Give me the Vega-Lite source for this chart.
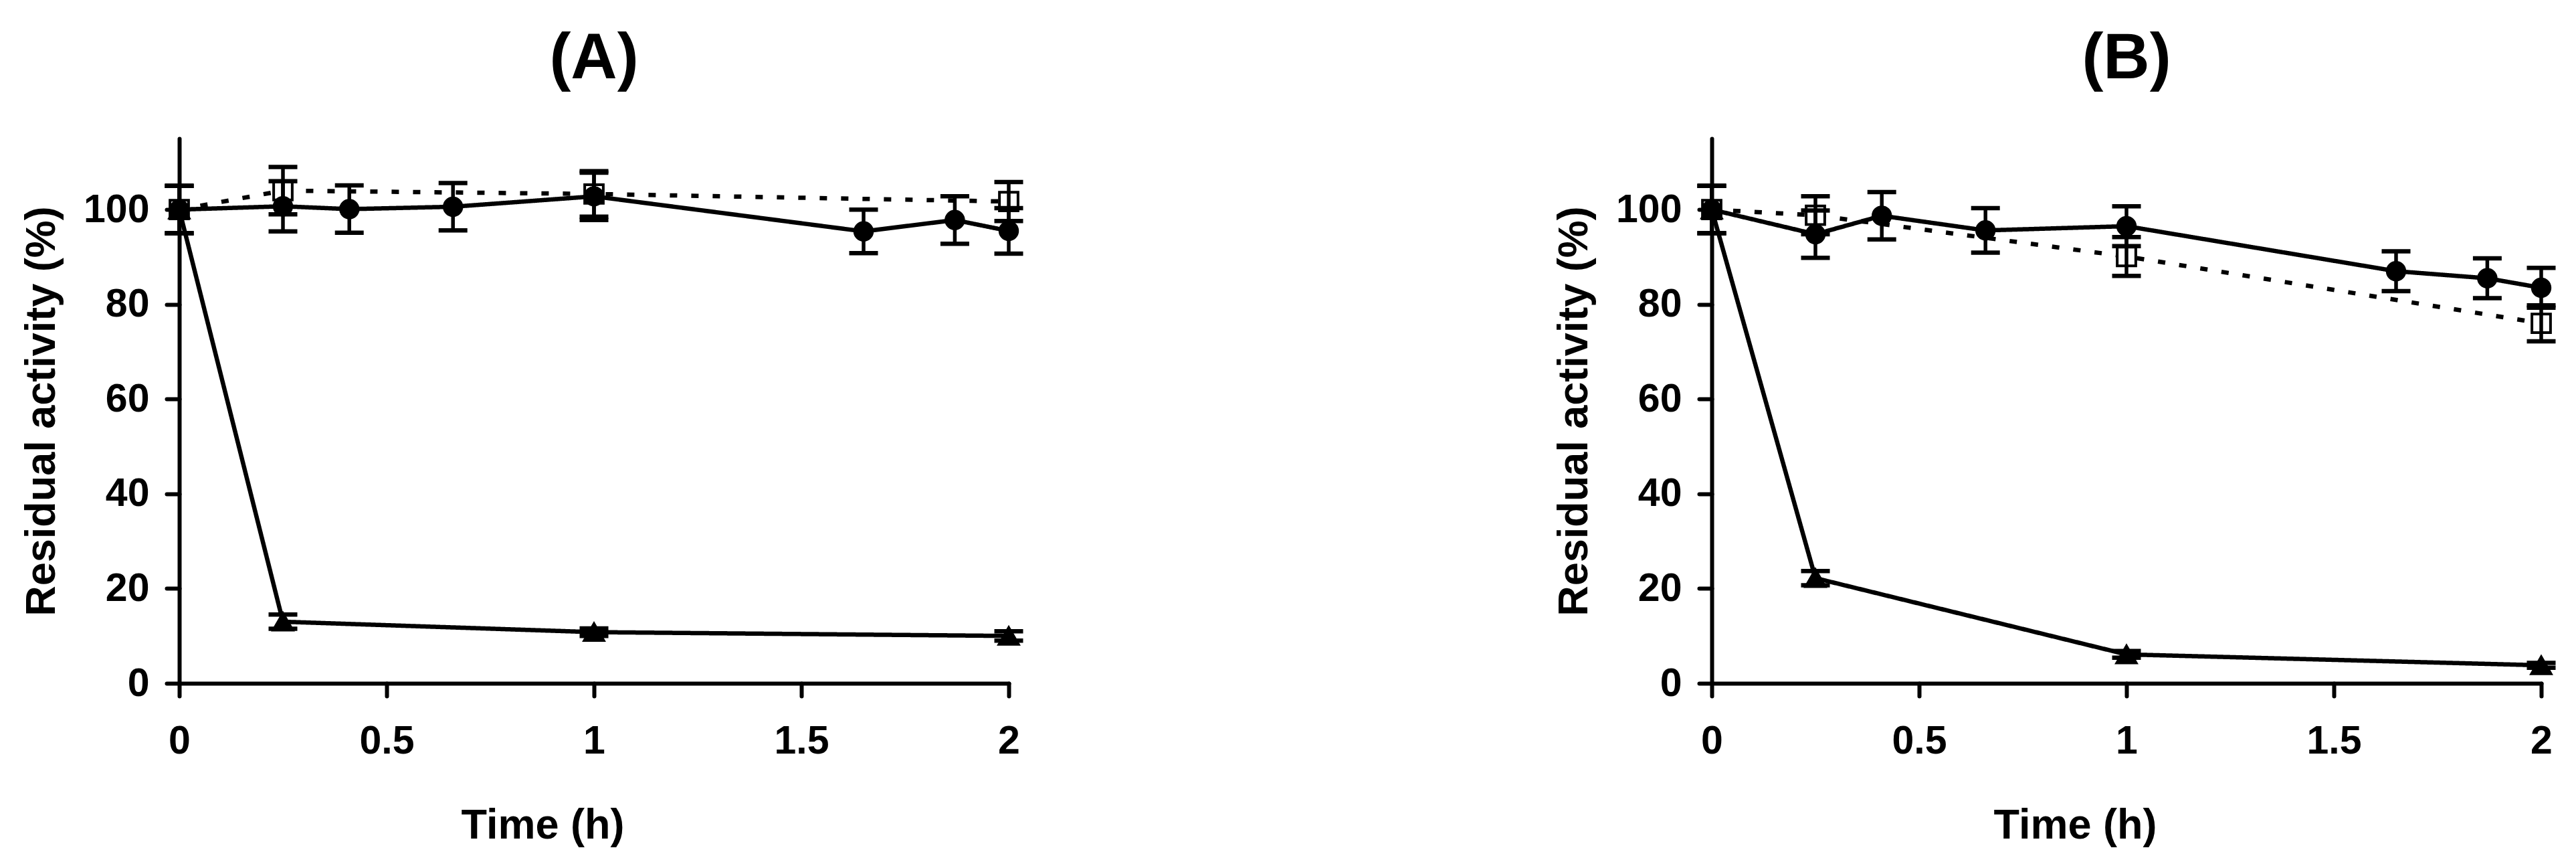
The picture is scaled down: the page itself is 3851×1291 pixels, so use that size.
{
  "$schema": "https://vega.github.io/schema/vega-lite/v6.json",
  "background": "white",
  "padding": {"left": 30, "top": 40, "right": 25, "bottom": 20},
  "data": {"values": [
    {"panel": "(A)", "series": "square", "t": 0, "value": 100, "err": 5},
    {"panel": "(A)", "series": "square", "t": 0.25, "value": 104, "err": 5},
    {"panel": "(A)", "series": "square", "t": 1, "value": 103.3, "err": 4.8},
    {"panel": "(A)", "series": "square", "t": 2, "value": 101.7, "err": 4.1},
    {"panel": "(A)", "series": "circle", "t": 0, "value": 100, "err": 5},
    {"panel": "(A)", "series": "circle", "t": 0.25, "value": 100.7, "err": 5.3},
    {"panel": "(A)", "series": "circle", "t": 0.41, "value": 100.1, "err": 5},
    {"panel": "(A)", "series": "circle", "t": 0.66, "value": 100.6, "err": 5},
    {"panel": "(A)", "series": "circle", "t": 1, "value": 102.8, "err": 5},
    {"panel": "(A)", "series": "circle", "t": 1.65, "value": 95.4, "err": 4.6},
    {"panel": "(A)", "series": "circle", "t": 1.87, "value": 97.8, "err": 5},
    {"panel": "(A)", "series": "circle", "t": 2, "value": 95.5, "err": 4.8},
    {"panel": "(A)", "series": "triangle", "t": 0, "value": 100, "err": 5},
    {"panel": "(A)", "series": "triangle", "t": 0.25, "value": 13.0, "err": 1.5},
    {"panel": "(A)", "series": "triangle", "t": 1, "value": 10.8, "err": 0.8},
    {"panel": "(A)", "series": "triangle", "t": 2, "value": 10.0, "err": 1.0},
    {"panel": "(B)", "series": "square", "t": 0, "value": 100, "err": 5},
    {"panel": "(B)", "series": "square", "t": 0.25, "value": 98.8, "err": 4},
    {"panel": "(B)", "series": "square", "t": 1, "value": 90.1, "err": 4.1},
    {"panel": "(B)", "series": "square", "t": 2, "value": 76.0, "err": 3.8},
    {"panel": "(B)", "series": "circle", "t": 0, "value": 100, "err": 5},
    {"panel": "(B)", "series": "circle", "t": 0.25, "value": 94.8, "err": 5},
    {"panel": "(B)", "series": "circle", "t": 0.41, "value": 98.7, "err": 5},
    {"panel": "(B)", "series": "circle", "t": 0.66, "value": 95.6, "err": 4.7},
    {"panel": "(B)", "series": "circle", "t": 1, "value": 96.5, "err": 4.2},
    {"panel": "(B)", "series": "circle", "t": 1.65, "value": 87.0, "err": 4.2},
    {"panel": "(B)", "series": "circle", "t": 1.87, "value": 85.5, "err": 4.2},
    {"panel": "(B)", "series": "circle", "t": 2, "value": 83.5, "err": 4.2},
    {"panel": "(B)", "series": "triangle", "t": 0, "value": 100, "err": 5},
    {"panel": "(B)", "series": "triangle", "t": 0.25, "value": 22.2, "err": 1.5},
    {"panel": "(B)", "series": "triangle", "t": 1, "value": 6.1, "err": 0.7},
    {"panel": "(B)", "series": "triangle", "t": 2, "value": 3.8, "err": 0.5}
  ]},
  "facet": {
    "column": {
      "field": "panel", "type": "nominal",
      "header": {
        "title": null,
        "labelExpr": "datum.label + '\u00a0'",
        "labelFont": "Liberation Sans",
        "labelFontWeight": "bold",
        "labelFontSize": 96,
        "labelColor": "black",
        "labelPadding": 70
      }
    }
  },
  "spacing": 1051,
  "bounds": "flush",
  "resolve": {"axis": {"x": "independent", "y": "independent"}},
  "spec": {
    "width": 1240,
    "height": 814,
    "encoding": {
      "x": {
        "field": "t", "type": "quantitative",
        "scale": {"domain": [0, 2], "nice": false, "zero": false},
        "axis": {
          "title": "Time (h)",
          "values": [0, 0.5, 1, 1.5, 2],
          "format": "~g",
          "labelPadding": 38,
          "labelFlush": false,
          "titleX": 543,
          "titleY": 231,
          "titleBaseline": "alphabetic"
        }
      },
      "y": {
        "field": "value", "type": "quantitative",
        "scale": {"domain": [0, 115], "nice": false},
        "axis": {
          "title": "Residual activity (%)",
          "values": [0, 20, 40, 60, 80, 100],
          "labelPadding": 26,
          "titleX": -206,
          "titleY": 407,
          "titleAngle": -90,
          "titleAlign": "center",
          "titleBaseline": "middle"
        }
      }
    },
    "layer": [
      {
        "mark": {"type": "line", "color": "black", "strokeWidth": 6.5},
        "encoding": {
          "detail": {"field": "series"},
          "strokeDash": {
            "field": "series", "type": "nominal",
            "scale": {"domain": ["circle", "square", "triangle"], "range": [[1, 0], [11, 21], [1, 0]]},
            "legend": null
          }
        }
      },
      {
        "mark": {"type": "point", "filled": true, "stroke": "black", "strokeWidth": 4, "opacity": 1},
        "encoding": {
          "shape": {
            "field": "series", "type": "nominal",
            "scale": {"domain": ["circle", "square", "triangle"], "range": ["circle", "square", "triangle-up"]},
            "legend": null
          },
          "fill": {
            "field": "series", "type": "nominal",
            "scale": {"domain": ["circle", "square", "triangle"], "range": ["black", "white", "black"]},
            "legend": null
          },
          "size": {
            "field": "series", "type": "nominal",
            "scale": {"domain": ["circle", "square", "triangle"], "range": [700, 841, 1150]},
            "legend": null
          }
        }
      },
      {
        "mark": {
          "type": "errorbar",
          "color": "black",
          "opacity": 1,
          "ticks": {"size": 43, "thickness": 6.5, "color": "black", "opacity": 1},
          "rule": {"strokeWidth": 5.5, "color": "black", "opacity": 1}
        },
        "encoding": {
          "yError": {"field": "err"},
          "detail": {"field": "series"}
        }
      }
    ]
  },
  "config": {
    "view": {"stroke": null},
    "axis": {
      "grid": false,
      "domainColor": "black",
      "domainWidth": 6,
      "domainCap": "round",
      "tickColor": "black",
      "tickWidth": 6,
      "tickSize": 19,
      "tickCap": "round",
      "labelFont": "Liberation Sans",
      "labelFontWeight": "bold",
      "labelFontSize": 59,
      "labelColor": "black",
      "titleFont": "Liberation Sans",
      "titleFontWeight": "bold",
      "titleFontSize": 63,
      "titleColor": "black"
    }
  }
}
